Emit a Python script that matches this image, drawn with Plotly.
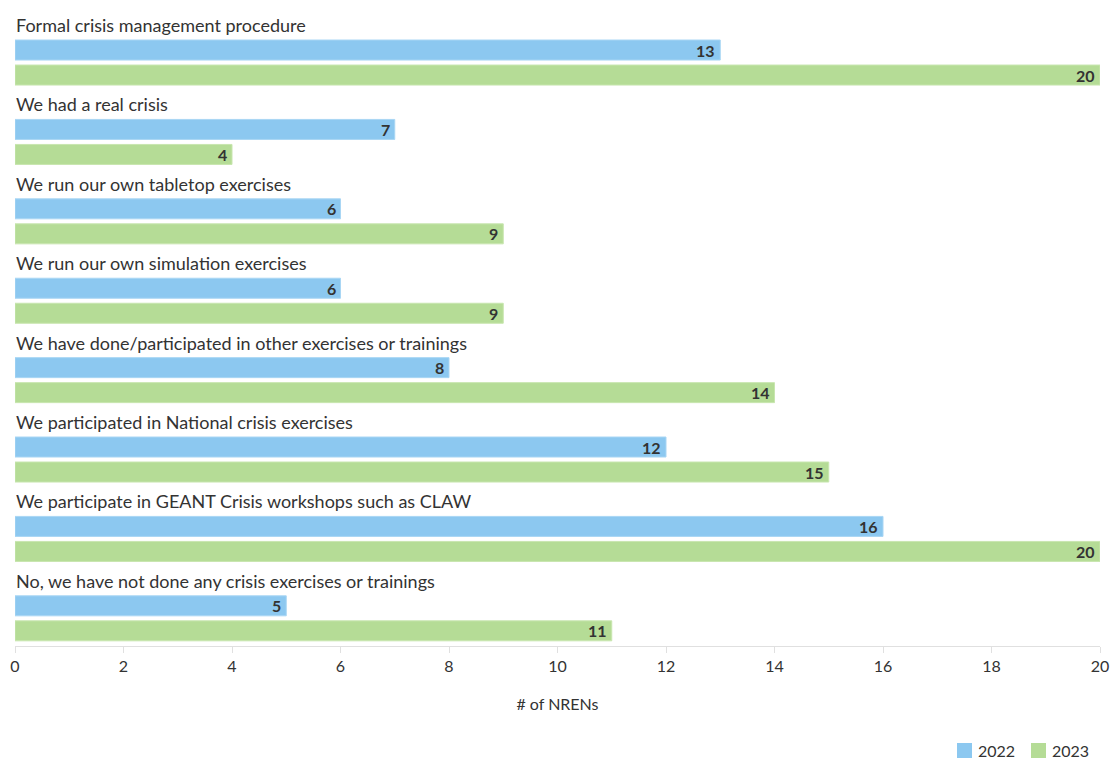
import plotly.graph_objects as go

# Survey answers about crisis management, number of NRENs per year
categories = [
    "Formal crisis management procedure",
    "We had a real crisis",
    "We run our own tabletop exercises",
    "We run our own simulation exercises",
    "We have done/participated in other exercises or trainings",
    "We participated in National crisis exercises",
    "We participate in GEANT Crisis workshops such as CLAW",
    "No, we have not done any crisis exercises or trainings",
]
values_2022 = [13, 7, 6, 6, 8, 12, 16, 5]
values_2023 = [20, 4, 9, 9, 14, 15, 20, 11]
years = ["2022", "2023"]
x_ticks = [0, 2, 4, 6, 8, 10, 12, 14, 16, 18, 20]

FONT = "Lato"
TEXT_COLOR = "#333333"
BLUE = "#8cc8f0"
GREEN = "#b5dc96"
COLORS = [BLUE, GREEN]
EDGES = ["#a9d6f4", "#c8e6af"]

positions = list(range(len(categories)))
BAR_W = 0.252
GAP = 0.063

# Plot-area geometry (pixels) used for the legend placed below the axis
L, R, T, B = 15, 1100, 2, 646


def px_x(px):
    return (px - L) / (R - L)


def px_y(py):
    return (B - py) / (B - T)


fig = go.Figure()
for k, (year, vals) in enumerate(zip(years, [values_2022, values_2023])):
    offset = k * (BAR_W + GAP)
    fig.add_trace(go.Bar(
        name=year, y=positions, x=vals, orientation="h",
        width=BAR_W, offset=offset,
        marker=dict(color=COLORS[k], line=dict(color=EDGES[k], width=1)),
        hovertext=categories, showlegend=False,
    ))
    # value labels at the end of each bar
    for pos, v in zip(positions, vals):
        fig.add_annotation(
            x=v, y=pos + offset + BAR_W / 2, xref="x", yref="y", text=str(v),
            showarrow=False, xanchor="right", yanchor="middle", xshift=-3,
            font=dict(family=FONT, size=16, color=TEXT_COLOR, weight="bold"),
        )

# Category names sit above each pair of bars
for pos, name in zip(positions, categories):
    fig.add_annotation(
        x=0, y=pos - 0.19, xref="x", yref="y", text=name, showarrow=False,
        xanchor="left", yanchor="middle", xshift=-1,
        font=dict(family=FONT, size=18, color=TEXT_COLOR),
    )

# Legend: colour swatch followed by the year
legend_x = [957, 1031]
for k, year in enumerate(years):
    x0 = legend_x[k]
    fig.add_shape(
        type="rect", xref="paper", yref="paper",
        x0=px_x(x0), x1=px_x(x0 + 15), y0=px_y(758), y1=px_y(743),
        fillcolor=COLORS[k], line=dict(width=0),
    )
    fig.add_annotation(
        x=px_x(x0 + 19), y=px_y(750), xref="paper", yref="paper", text=year,
        showarrow=False, xanchor="left", yanchor="middle",
        font=dict(family=FONT, size=16, color=TEXT_COLOR),
    )

fig.update_layout(
    width=1111, height=760,
    margin=dict(l=L, r=1111 - R, t=T, b=760 - B),
    plot_bgcolor="white", paper_bgcolor="white",
    barmode="overlay",
    font=dict(family=FONT, size=15, color=TEXT_COLOR),
    showlegend=False,
    xaxis=dict(
        range=[0, 20], tickvals=x_ticks, showgrid=False, zeroline=False,
        showline=True, linecolor="#e0e0e0", linewidth=1,
        ticks="outside", ticklen=6, tickcolor="#e0e0e0",
        tickfont=dict(family=FONT, size=16, color=TEXT_COLOR),
        title=dict(text="# of NRENs", standoff=24, font=dict(family=FONT, size=16, color=TEXT_COLOR)),
        fixedrange=True,
    ),
    yaxis=dict(
        range=[7.632, -0.479], showticklabels=False, showgrid=False,
        zeroline=False, showline=False, ticks="", fixedrange=True,
    ),
)

fig.write_html("out.html")
